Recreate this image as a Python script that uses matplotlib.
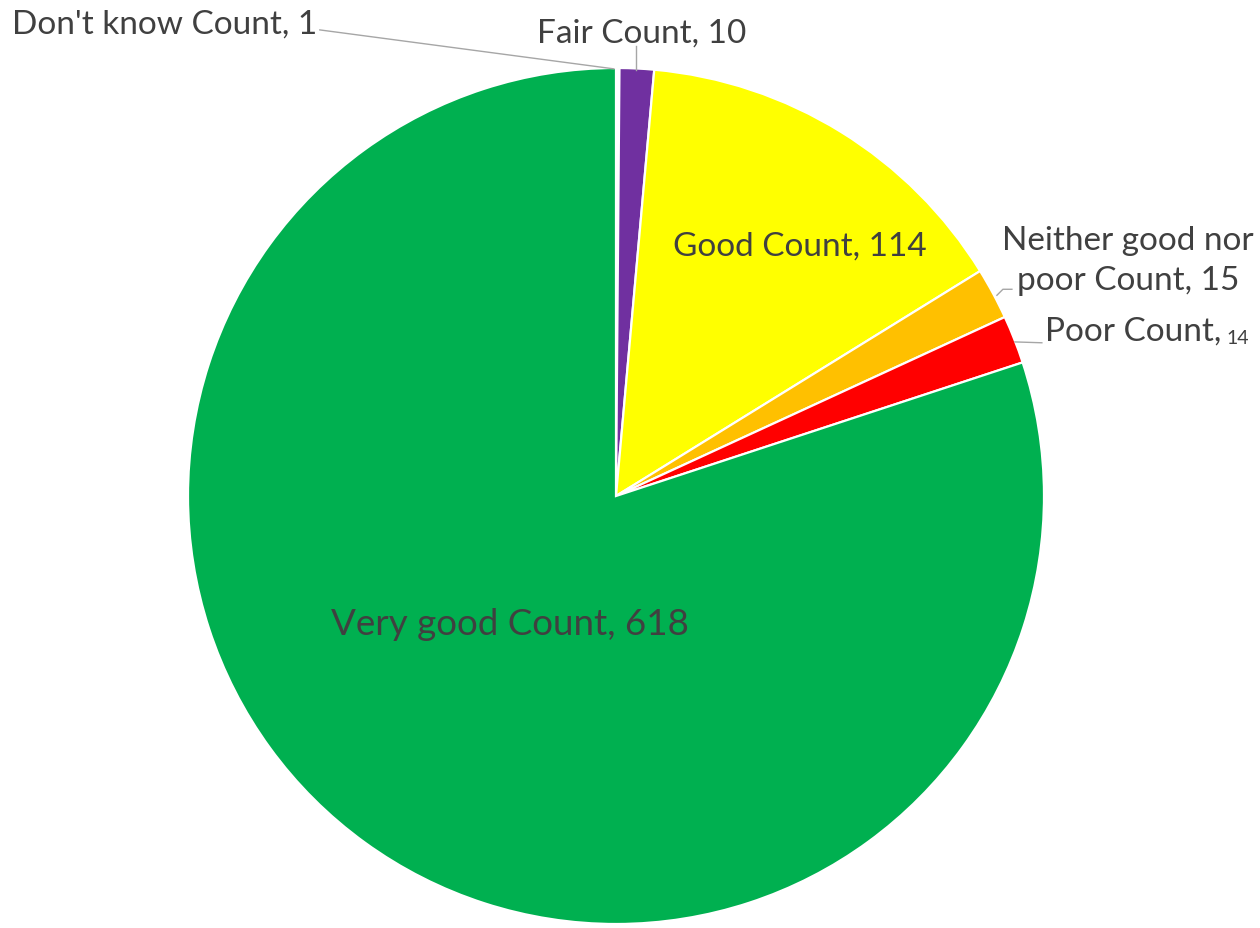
import matplotlib.pyplot as plt

# counts per answer, clockwise from 12 o'clock
labels = ["Don't know", "Fair", "Good", "Neither good nor\npoor", "Poor", "Very good"]
counts = [1, 10, 114, 15, 14, 618]
colors = ["#FFFFFF", "#7030A0", "#FFFF00", "#FFC000", "#FF0000", "#00B050"]

plt.rcParams["font.family"] = ["Lato", "DejaVu Sans"]
txt = "#404040"
lead = "#A6A6A6"

fig = plt.figure(figsize=(12.6, 9.29), dpi=100)
# pie box: center (616, 497) px, radius 428 px
ax = fig.add_axes([188 / 1260, 4 / 929, 856 / 1260, 856 / 929])
ax.pie(counts, colors=colors, startangle=90, counterclock=False, radius=1,
       wedgeprops=dict(edgecolor="white", linewidth=1.6))
ax.set_xlim(-1, 1)
ax.set_ylim(-1, 1)
ax.set_aspect("auto")
ax.axis("off")

fs = 24
kw = dict(color=txt, fontsize=fs, clip_on=False)

# Don't know
ax.plot([-0.692, -0.005], [1.089, 0.998], color=lead, lw=1, clip_on=False)
ax.text(-0.697, 1.105, f"{labels[0]} Count, {counts[0]}", ha="right", va="center", **kw)
# Fair
ax.plot([0.047, 0.047], [1.051, 0.995], color=lead, lw=1, clip_on=False)
ax.text(0.061, 1.084, f"{labels[1]} Count, {counts[1]}", ha="center", va="center", **kw)
# Good
ax.text(0.430, 0.586, f"{labels[2]} Count, {counts[2]}", ha="center", va="center", **kw)
# Neither
ax.plot([0.890, 0.904, 0.925], [0.469, 0.483, 0.483], color=lead, lw=1, clip_on=False)
ax.text(1.196, 0.551, f"{labels[3]} Count, {counts[3]}", ha="center", va="center",
        linespacing=1.42, **kw)
# Poor (value in smaller type)
ax.plot([0.932, 0.995], [0.360, 0.358], color=lead, lw=1, clip_on=False)
t = ax.text(1.002, 0.386, f"{labels[4]} Count,", ha="left", va="center", **kw)
fig.canvas.draw()
bb = t.get_window_extent()
x_end = ax.transData.inverted().transform((bb.x1, bb.y0))[0]
ax.text(x_end + 0.012, 0.386 - 0.016, str(counts[4]), ha="left", va="center",
        color=txt, fontsize=14, clip_on=False)
# Very good
ax.text(-0.248, -0.299, f"{labels[5]} Count, {counts[5]}", ha="center", va="center",
        color=txt, fontsize=26.5, clip_on=False)

fig.savefig("out.png", dpi=100)
